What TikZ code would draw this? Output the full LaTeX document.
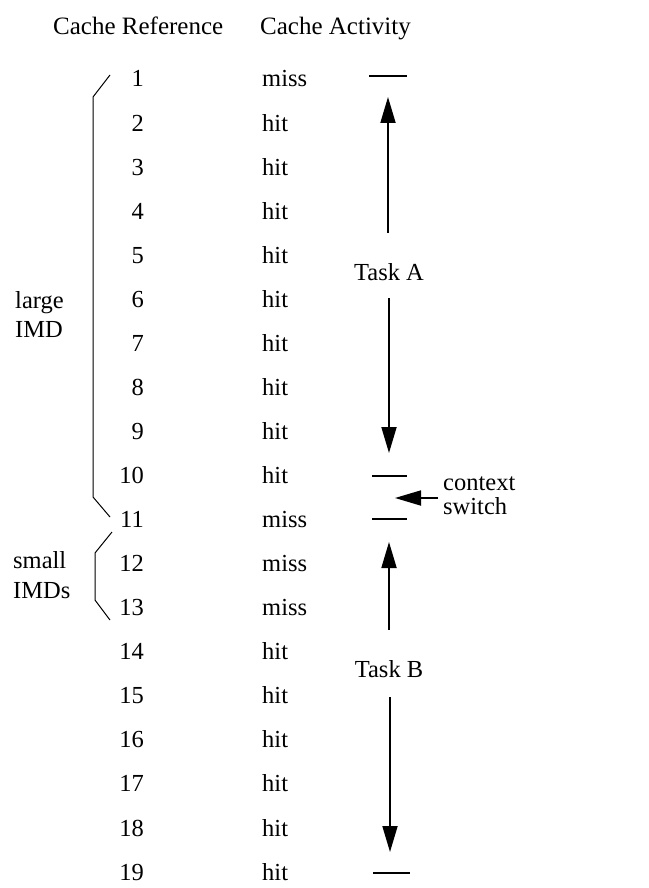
\documentclass[tikz,border=0pt]{standalone}
\usepackage{fontspec}
\setmainfont{Liberation Serif}
\usetikzlibrary{arrows.meta}
\begin{document}
\begin{tikzpicture}[x=1pt,y=-1pt,
  txt/.style={inner sep=0pt,font=\fontsize{24.5}{28}\selectfont},
  hdr/.style={inner sep=0pt,font=\fontsize{25}{29}\selectfont,anchor=base west},
  num/.style={txt,anchor=base east},
  act/.style={txt,anchor=base west},
  lbl/.style={txt,anchor=base west},
  brk/.style={line width=1pt},
  tick/.style={line width=2.2pt},
  arr/.style={line width=1.8pt,-{Triangle[length=26pt,width=15pt]}}]
\useasboundingbox (0,0) rectangle (648,888);
% headers
\node[hdr] (h1) at (53,35) {Cache Reference};
\node[hdr] (h2) at (260,35) {Cache Activity};
% rows
\foreach \i/\a in {1/miss,2/hit,3/hit,4/hit,5/hit,6/hit,7/hit,8/hit,9/hit,10/hit,11/miss,12/miss,13/miss,14/hit,15/hit,16/hit,17/hit,18/hit,19/hit}{
  \node[num] (n\i) at (144,{87+44.06*(\i-1)}) {\i};
  \node[act] (a\i) at (262,{87+44.06*(\i-1)}) {\a};
}
% brackets
\coordinate (b1) at (110,75);
\coordinate (b2) at (93,97);
\coordinate (b3) at (93,497);
\coordinate (b4) at (110,517);
\draw[brk] (b1) -- (b2) -- (b3) -- (b4);
\coordinate (c1) at (112,532);
\coordinate (c2) at (95,553);
\coordinate (c3) at (95,600);
\coordinate (c4) at (110,620);
\draw[brk] (c1) -- (c2) -- (c3) -- (c4);
\node[lbl] (large) at (15,308) {large};
\node[lbl] (imd) at (15,337) {IMD};
\node[lbl] (small) at (13,568) {small};
\node[lbl] (imds) at (13,598) {IMDs};
% task A
\coordinate (t1l) at (369,76); \coordinate (t1r) at (407,76);
\draw[tick] (t1l) -- (t1r);
\node[txt,anchor=base] (taskA) at (389,280) {Task A};
\coordinate (au0) at (388,233); \coordinate (au1) at (388,97);
\draw[arr] (au0) -- (au1);
\coordinate (ad0) at (389,298); \coordinate (ad1) at (389,453);
\draw[arr] (ad0) -- (ad1);
% context switch
\coordinate (t2l) at (372,476); \coordinate (t2r) at (407,476);
\draw[tick] (t2l) -- (t2r);
\coordinate (t3l) at (372,519); \coordinate (t3r) at (407,519);
\draw[tick] (t3l) -- (t3r);
\node[lbl] (ctx) at (443,490) {context};
\node[lbl] (sw) at (443,514) {switch};
\coordinate (cs0) at (438,498); \coordinate (cs1) at (395,498);
\draw[arr] (cs0) -- (cs1);
% task B
\coordinate (bu0) at (389,630); \coordinate (bu1) at (389,542);
\draw[arr] (bu0) -- (bu1);
\node[txt,anchor=base] (taskB) at (389,677) {Task B};
\coordinate (bd0) at (390,697); \coordinate (bd1) at (390,852);
\draw[arr] (bd0) -- (bd1);
\coordinate (t4l) at (373,873); \coordinate (t4r) at (410,873);
\draw[tick] (t4l) -- (t4r);
\end{tikzpicture}
\end{document}
